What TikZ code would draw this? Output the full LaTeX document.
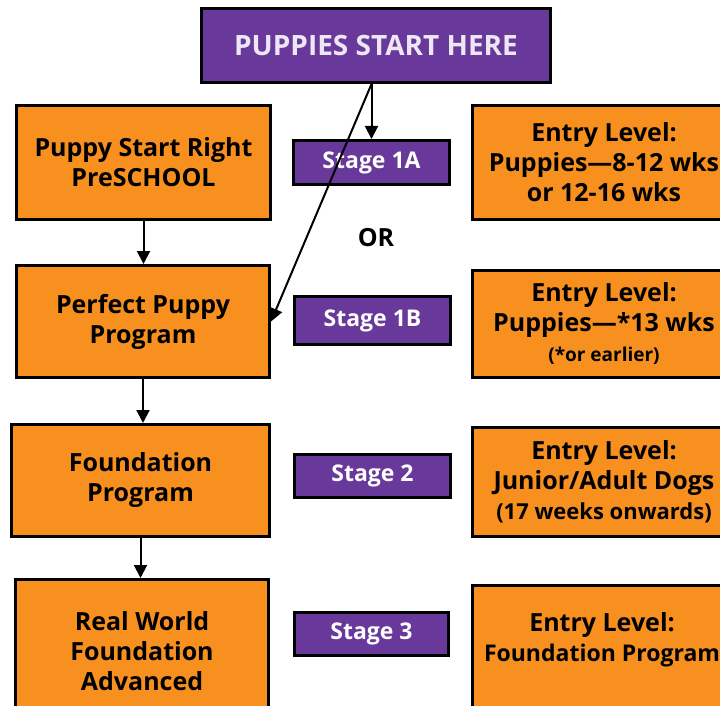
\documentclass[tikz,border=0pt]{standalone}
\usepackage{xcolor}
\usepackage{fontspec}
\setmainfont{Open Sans}
\usetikzlibrary{arrows.meta}
\definecolor{puporange}{RGB}{247,144,30}
\definecolor{puppurple}{RGB}{104,57,154}
\definecolor{puplilac}{RGB}{236,230,245}

\begin{document}
\begin{tikzpicture}[x=1pt,y=-1pt,
         box/.style={draw=black,line width=3pt,fill=puporange,align=center,inner sep=0pt,
            font=\fontsize{25}{30}\selectfont\bfseries},
         stagebox/.style={draw=black,line width=3pt,fill=puppurple,text=white,inner sep=0pt,
            minimum width=156pt,minimum height=43pt,font=\fontsize{23}{26}\selectfont\bfseries},
         arr/.style={line width=2pt,-{Triangle[length=13pt,width=13pt]}}]
         \useasboundingbox (0,0) rectangle (720,706);
         \node[draw=black,line width=3pt,fill=puppurple,text=puplilac,minimum width=349pt,minimum height=74pt,
            font=\fontsize{28}{30}\selectfont\bfseries] (start) at (376,45.5) {PUPPIES START HERE};
         \node[box,minimum width=254pt,minimum height=114pt] (l1) at (143.5,162.5) {Puppy Start Right\\PreSCHOOL};
         \node[box,minimum width=253pt,minimum height=112pt] (l2) at (143,321.5) {Perfect Puppy\\Program};
         \node[box,minimum width=258pt,minimum height=112pt] (l3) at (140.5,480.5) {Foundation\\Program};
         \node[box,minimum width=253pt,minimum height=144pt] (l4) at (142,651.5) {Real World\\Foundation\\Advanced};
         \node[stagebox,minimum height=44pt] (s1a) at (371.5,162.5) {Stage 1A};
         \node[stagebox,minimum height=48pt] (s1b) at (372.5,320.5) {Stage 1B};
         \node[stagebox] (s2) at (372.5,476) {Stage 2};
         \node[stagebox,minimum width=154pt] (s3) at (371.5,634) {Stage 3};
         \node[font=\fontsize{25}{28}\selectfont\bfseries] (or) at (376,238) {OR};
         \node[box,minimum width=263pt,minimum height=114pt] (r1) at (604,162.5)
            {Entry Level:\\Puppies—8-12 wks\\or 12-16 wks};
         \node[box,minimum width=263pt,minimum height=107pt] (r2) at (604,324)
            {Entry Level:\\Puppies—*13 wks\\{\fontsize{19}{22}\selectfont(*or earlier)}};
         \node[box,minimum width=263pt,minimum height=109pt] (r3) at (604,482)
            {Entry Level:\\Junior/Adult Dogs\\{\fontsize{22}{26}\selectfont(17 weeks onwards)}};
         \node[box,minimum width=263pt,minimum height=150pt] (r4) at (604,660.5) {};
         \node[align=center,font=\fontsize{25}{30}\selectfont\bfseries] (r4text) at (602,640)
            {Entry Level:\\{\fontsize{23}{27}\selectfont Foundation Program}};
         \draw[arr] (start.south -| s1a.north) -- (s1a.north);
         \draw[arr] (start.south -| s1a.north) -- (l2.east);
         \draw[arr] (l1.south) -- (l1.south |- l2.north);
         \draw[arr] (l2.south) -- (l2.south |- l3.north);
         \draw[arr] (l3.south) -- (l3.south |- l4.north);
      \end{tikzpicture}
\end{document}
